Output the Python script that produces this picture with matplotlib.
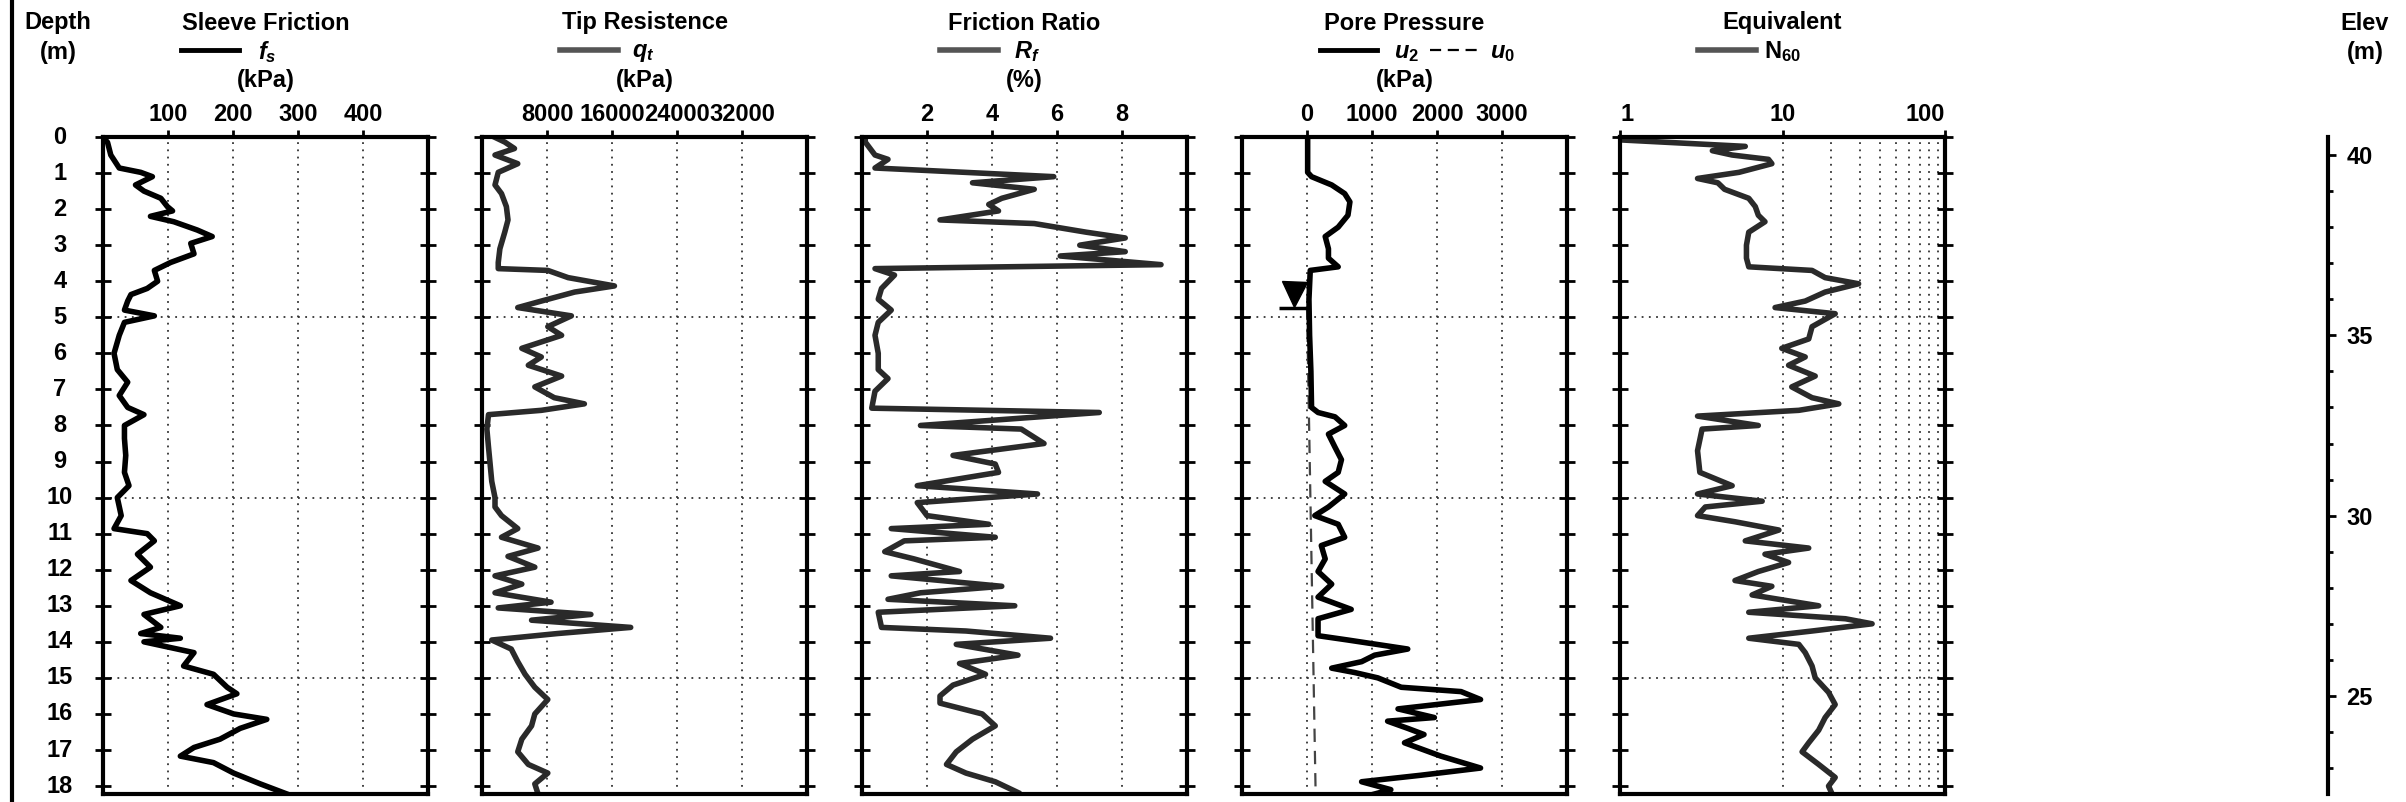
import numpy as np
import matplotlib
matplotlib.use("Agg")
import matplotlib.pyplot as plt
from matplotlib.lines import Line2D
from matplotlib.transforms import blended_transform_factory
from matplotlib.ticker import MultipleLocator, NullLocator

W, H = 2406, 802

plt.rcParams["font.family"] = ["Liberation Sans", "DejaVu Sans"]
plt.rcParams["font.weight"] = "bold"
plt.rcParams["mathtext.fontset"] = "custom"
plt.rcParams["mathtext.it"] = "Liberation Sans:bold:italic"
plt.rcParams["mathtext.rm"] = "Liberation Sans:bold"
plt.rcParams["mathtext.bf"] = "Liberation Sans:bold"

# ---- data (depth in m) ----
fs_depth = [0.00, 0.15, 0.50, 0.86, 0.98, 1.10, 1.33, 1.50, 1.70, 1.93,
            2.05, 2.20, 2.35, 2.58, 2.76, 2.95, 3.24, 3.48, 3.70, 4.00,
            4.20, 4.37, 4.55, 4.80, 4.96, 5.14, 5.50, 6.00, 6.45, 6.80,
            7.17, 7.50, 7.70, 8.00, 8.36, 8.83, 9.30, 9.67, 10.00, 10.50,
            10.86, 11.00, 11.20, 11.57, 11.93, 12.30, 12.64, 13.00, 13.24, 13.60,
            13.77, 13.90, 14.00, 14.30, 14.67, 14.90, 15.26, 15.44, 15.74, 16.00,
            16.15, 16.40, 16.70, 16.93, 17.17, 17.35, 17.64, 17.94, 18.22]
fs_kpa = [0, 7, 12, 25, 58, 76, 50, 63, 89, 99,
          107, 73, 109, 145, 168, 135, 140, 104, 79, 84,
          68, 43, 38, 33, 79, 33, 25, 17, 22, 38,
          25, 38, 63, 33, 33, 35, 33, 40, 22, 28,
          17, 68, 79, 53, 73, 43, 73, 119, 63, 89,
          58, 119, 63, 140, 124, 170, 191, 206, 160, 201,
          252, 211, 180, 140, 119, 170, 201, 242, 283]

qt_depth = [0.00, 0.14, 0.32, 0.50, 0.74, 0.98, 1.33, 1.57, 1.93, 2.30,
            2.64, 3.10, 3.48, 3.65, 3.70, 3.90, 4.13, 4.30, 4.55, 4.73,
            4.96, 5.26, 5.50, 5.86, 6.10, 6.33, 6.63, 6.93, 7.23, 7.40,
            7.58, 7.70, 8.10, 8.60, 9.07, 9.55, 10.00, 10.26, 10.50, 10.86,
            11.10, 11.40, 11.63, 11.93, 12.17, 12.40, 12.64, 12.90, 13.06, 13.24,
            13.40, 13.60, 13.77, 13.95, 14.20, 14.55, 14.90, 15.26, 15.60, 16.00,
            16.33, 16.70, 17.05, 17.40, 17.64, 17.94, 18.22]
qt_kpa = [1500, 2800, 4000, 1600, 4400, 2000, 1600, 2400, 3000, 3200,
          2800, 2200, 2000, 2000, 8100, 10600, 16300, 11400, 7300, 4400,
          11000, 8100, 9800, 4900, 7300, 5700, 9800, 6500, 8900, 12600,
          7300, 800, 600, 800, 1000, 1200, 1600, 1600, 2400, 4400,
          2400, 6900, 3200, 6500, 1600, 4900, 1600, 8500, 2000, 13400,
          6100, 18300, 9300, 1200, 3600, 4400, 5300, 6500, 8100, 6500,
          6100, 4900, 4400, 5700, 8100, 6500, 6900]

rf_depth = [0.00, 0.14, 0.50, 0.62, 0.86, 0.92, 1.10, 1.27, 1.45, 1.70,
            1.87, 2.05, 2.30, 2.40, 2.64, 2.80, 3.00, 3.18, 3.30, 3.54,
            3.65, 3.83, 4.20, 4.50, 4.80, 5.14, 5.50, 6.00, 6.45, 6.70,
            7.05, 7.52, 7.64, 8.00, 8.10, 8.50, 8.83, 9.07, 9.30, 9.67,
            9.90, 10.14, 10.50, 10.74, 10.86, 11.10, 11.20, 11.50, 11.70, 12.05,
            12.17, 12.46, 12.64, 12.82, 13.00, 13.18, 13.60, 13.70, 13.90, 14.07,
            14.37, 14.60, 14.90, 15.20, 15.50, 15.70, 16.00, 16.33, 16.70, 17.05,
            17.40, 17.64, 17.88, 18.18]
rf_pct = [0.1, 0.1, 0.4, 0.8, 0.4, 1.8, 5.9, 3.4, 5.3, 4.3,
          3.9, 4.2, 2.4, 5.3, 6.9, 8.1, 6.7, 8.1, 6.1, 9.2,
          0.4, 1.0, 0.6, 0.5, 0.9, 0.5, 0.4, 0.5, 0.5, 0.8,
          0.4, 0.3, 7.3, 1.8, 4.9, 5.6, 2.8, 4.1, 4.2, 1.7,
          5.4, 1.7, 2.0, 3.9, 0.9, 4.1, 1.3, 0.7, 1.6, 3.0,
          0.9, 4.3, 1.8, 0.8, 4.7, 0.5, 0.6, 3.2, 5.8, 2.9,
          4.8, 3.0, 3.8, 2.8, 2.4, 2.4, 3.7, 4.1, 3.4, 2.9,
          2.6, 3.2, 4.1, 4.8]

u2_depth = [0.00, 0.98, 1.10, 1.33, 1.57, 1.80, 2.17, 2.50, 2.76, 3.10,
            3.36, 3.60, 3.70, 4.50, 5.50, 6.50, 7.50, 7.64, 7.76, 8.00,
            8.24, 8.60, 8.95, 9.30, 9.55, 9.90, 10.26, 10.50, 10.74, 11.10,
            11.33, 11.70, 12.05, 12.40, 12.76, 13.10, 13.36, 13.83, 13.95, 14.20,
            14.37, 14.55, 14.73, 14.85, 15.00, 15.26, 15.38, 15.60, 15.86, 16.10,
            16.20, 16.40, 16.57, 16.80, 17.17, 17.50, 17.70, 17.88, 18.10, 18.22]
u2_kpa = [10, 10, 70, 380, 580, 660, 630, 480, 280, 330,
          330, 480, 50, 30, 40, 60, 70, 170, 430, 580,
          330, 430, 530, 480, 280, 580, 330, 120, 480, 580,
          220, 280, 170, 380, 170, 680, 170, 170, 630, 1550,
          1040, 840, 380, 730, 1090, 1450, 2370, 2670, 1400, 1960,
          1240, 1550, 1800, 1500, 2060, 2670, 1750, 840, 1290, 1040]

u0_depth = [4.7, 18.22]
u0_kpa = [0, 133]
water_table = 4.7

n60_depth = [0.00, 0.08, 0.26, 0.38, 0.50, 0.62, 0.74, 0.98, 1.15, 1.27,
             1.45, 1.70, 1.93, 2.17, 2.35, 2.64, 3.00, 3.36, 3.60, 3.70,
             3.90, 4.07, 4.30, 4.55, 4.73, 4.90, 5.26, 5.60, 5.86, 6.10,
             6.33, 6.63, 6.93, 7.23, 7.40, 7.58, 7.74, 8.00, 8.10, 8.70,
             9.30, 9.67, 9.90, 10.10, 10.26, 10.50, 10.67, 10.90, 11.20, 11.40,
             11.57, 11.80, 12.05, 12.30, 12.46, 12.70, 13.00, 13.18, 13.36, 13.50,
             13.70, 13.90, 14.07, 14.30, 14.67, 15.00, 15.40, 15.74, 16.10, 16.45,
             16.80, 17.05, 17.40, 17.76, 18.00, 18.22]
n60 = [1.0, 1.0, 5.9, 3.7, 4.9, 8.2, 8.6, 5.4, 3.0, 4.0,
       4.4, 6.2, 6.8, 7.1, 7.8, 6.2, 6.0, 6.0, 6.2, 15.2,
       18.3, 29.4, 18.3, 13.8, 9.0, 21.1, 15.2, 14.5, 9.9, 13.8,
       10.9, 15.9, 11.4, 15.2, 22.2, 12.6, 3.0, 7.1, 3.2, 3.0,
       3.1, 4.9, 3.0, 7.5, 3.35, 3.0, 5.1, 9.5, 5.9, 14.5,
       7.8, 10.9, 7.1, 5.1, 8.6, 6.5, 16.7, 6.2, 24.4, 35.6,
       15.2, 6.2, 12.6, 13.8, 15.2, 15.9, 19.2, 21.1, 18.3, 16.7,
       14.5, 13.2, 16.7, 21.1, 19.2, 20.2]

depth_ticks = list(range(0, 19))
elev_at_surface = 40.5

# ---- layout (pixels) ----
DEPTH_MAX = 18.22
TOP, BOT = 137, 794
PW = 325
LEFTS = [103, 482, 862, 1242, 1620]
GRID_KW = dict(color="#333333", ls=(0, (1, 3)), lw=1.3, zorder=0)
CURVE_DARK = "#2a2a2a"
LW = 4

fig = plt.figure(figsize=(W / 100, H / 100), dpi=100)


def pxt(x, y, s, **kw):
    fig.text(x / W, 1 - y / H, s, **kw)


def make_panel(left, xlim, xticks, log=False):
    ax = fig.add_axes([left / W, 1 - BOT / H, PW / W, (BOT - TOP) / H])
    if log:
        ax.set_xscale("log")
    ax.set_xlim(*xlim)
    ax.set_ylim(DEPTH_MAX, 0)
    ax.xaxis.tick_top()
    ax.set_xticks(xticks)
    ax.set_xticklabels([str(t) for t in xticks])
    ax.xaxis.set_minor_locator(NullLocator())
    ax.tick_params(axis="x", direction="out", length=5, width=2,
                   labelsize=17, pad=3)
    ax.set_yticks(depth_ticks)
    ax.yaxis.set_ticks_position("both")
    ax.tick_params(axis="y", direction="inout", length=12, width=2,
                   labelleft=False, labelright=False)
    for sp in ax.spines.values():
        sp.set_linewidth(3)
    for d in (5, 10, 15):
        ax.axhline(d, **GRID_KW)
    return ax


def header(left, title, sym, unit, line_kw, sym_dx=-8):
    c = left + PW / 2
    pxt(c, 23, title, ha="center", va="center", fontsize=17)
    fig.add_artist(Line2D([(c - 85) / W, (c - 27) / W], [1 - 50 / H] * 2,
                          transform=fig.transFigure, **line_kw))
    pxt(c + sym_dx, 52, sym, ha="left", va="center", fontsize=17)
    if unit:
        pxt(c, 80, unit, ha="center", va="center", fontsize=17)


# Sleeve friction
ax1 = make_panel(LEFTS[0], (0, 500), [100, 200, 300, 400])
for t in [100, 200, 300, 400]:
    ax1.axvline(t, **GRID_KW)
ax1.plot(fs_kpa, fs_depth, color="black", lw=LW)
header(LEFTS[0], "Sleeve Friction", r"$f_s$", "(kPa)",
       dict(color="black", lw=3.5))

# Tip resistance
ax2 = make_panel(LEFTS[1], (0, 40000), [8000, 16000, 24000, 32000])
for t in [8000, 16000, 24000, 32000]:
    ax2.axvline(t, **GRID_KW)
ax2.plot(qt_kpa, qt_depth, color=CURVE_DARK, lw=LW)
header(LEFTS[1], "Tip Resistence", r"$q_t$", "(kPa)",
       dict(color="#555555", lw=4), sym_dx=-12)

# Friction ratio
ax3 = make_panel(LEFTS[2], (0, 10), [2, 4, 6, 8])
for t in [2, 4, 6, 8]:
    ax3.axvline(t, **GRID_KW)
ax3.plot(rf_pct, rf_depth, color=CURVE_DARK, lw=LW)
header(LEFTS[2], "Friction Ratio", r"$R_f$", "(%)",
       dict(color="#555555", lw=4), sym_dx=-10)

# Pore pressure
ax4 = make_panel(LEFTS[3], (-1000, 4000), [0, 1000, 2000, 3000])
for t in [0, 1000, 2000, 3000]:
    ax4.axvline(t, **GRID_KW)
ax4.plot(u0_kpa, u0_depth, color="#444444", lw=1.6, ls=(0, (6, 4)))
ax4.plot(u2_kpa, u2_depth, color="black", lw=LW)
ax4.plot([-200], [water_table - 0.35], marker="v", ms=18, color="black")
ax4.plot([-200], [water_table + 0.05], marker="_", ms=22, mew=2.5, color="black")
c4 = LEFTS[3] + PW / 2
pxt(c4, 23, "Pore Pressure", ha="center", va="center", fontsize=17)
fig.add_artist(Line2D([(c4 - 85) / W, (c4 - 28) / W], [1 - 50 / H] * 2,
                      transform=fig.transFigure, color="black", lw=3.5))
pxt(c4 - 10, 52, r"$u_2$", ha="left", va="center", fontsize=17)
fig.add_artist(Line2D([(c4 + 25) / W, (c4 + 78) / W], [1 - 50 / H] * 2,
                      transform=fig.transFigure, color="black", lw=1.6,
                      ls=(0, (5, 3))))
pxt(c4 + 86, 52, r"$u_0$", ha="left", va="center", fontsize=17)
pxt(c4, 80, "(kPa)", ha="center", va="center", fontsize=17)

# Equivalent N60
ax5 = make_panel(LEFTS[4], (1, 100), [1, 10, 100], log=True)
for t in [10, 20, 30, 40, 50, 60, 70, 80, 90]:
    ax5.axvline(t, **GRID_KW)
ax5.plot(n60, n60_depth, color=CURVE_DARK, lw=LW)
labs = ax5.get_xticklabels()
labs[0].set_ha("left")
labs[-1].set_ha("right")
header(LEFTS[4], "Equivalent", r"$\mathrm{N}_{60}$", None,
       dict(color="#555555", lw=4), sym_dx=-18)

# Depth labels on the far left
tr = blended_transform_factory(fig.transFigure, ax1.transData)
for d in depth_ticks:
    fig.text(60 / W, d, str(d), transform=tr, ha="center", va="center",
             fontsize=17)
pxt(58, 23, "Depth", ha="center", va="center", fontsize=17)
pxt(58, 52, "(m)", ha="center", va="center", fontsize=17)
fig.add_artist(Line2D([12 / W, 12 / W], [0, 1], transform=fig.transFigure,
                      color="black", lw=3))

# Elevation axis
axe = fig.add_axes([2328 / W, 1 - BOT / H, 0.0001, (BOT - TOP) / H])
axe.set_ylim(elev_at_surface - DEPTH_MAX, elev_at_surface)
axe.patch.set_visible(False)
for k in ("top", "bottom", "right"):
    axe.spines[k].set_visible(False)
axe.spines["left"].set_linewidth(3)
axe.set_xticks([])
axe.yaxis.set_ticks_position("right")
axe.yaxis.set_major_locator(MultipleLocator(5))
axe.yaxis.set_minor_locator(MultipleLocator(1))
axe.tick_params(axis="y", which="major", direction="out", length=6, width=2,
                labelsize=17, pad=7)
axe.tick_params(axis="y", which="minor", direction="out", length=3.5, width=2)
pxt(2365, 23, "Elev", ha="center", va="center", fontsize=17)
pxt(2365, 52, "(m)", ha="center", va="center", fontsize=17)

fig.savefig("out.png", dpi=100)
